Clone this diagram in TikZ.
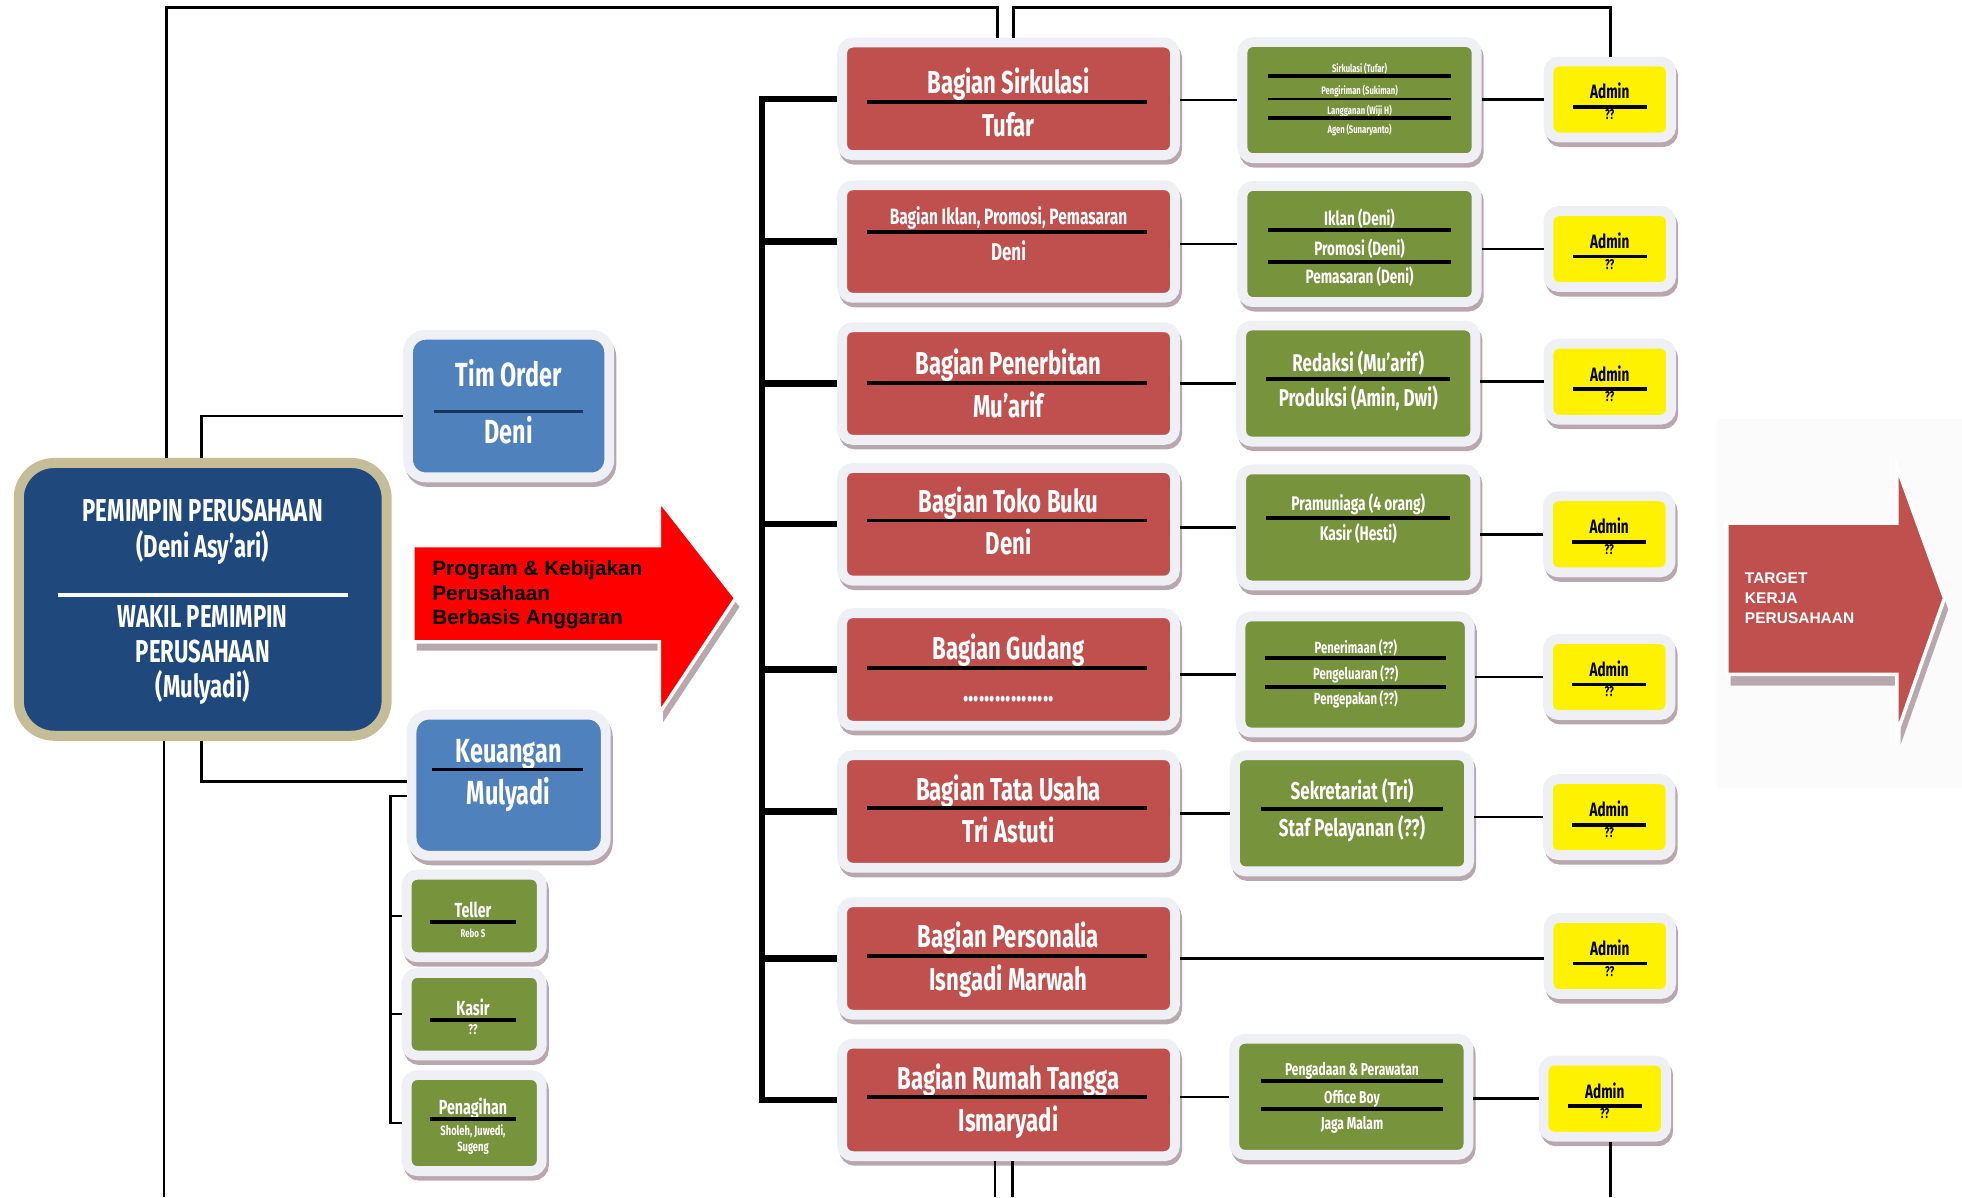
\documentclass[tikz,border=0pt]{standalone}
\usepackage{fontspec}
\newfontfamily\agency[FakeStretch=0.7]{Fira Sans}
\newfontfamily\arialb{Liberation Sans}
\usepackage{tikz}
\definecolor{merahbox}{HTML}{C0504D}
\definecolor{hijaubox}{HTML}{77933C}
\definecolor{birubox}{HTML}{4F81BD}
\definecolor{birutua}{HTML}{1F497D}
\definecolor{krem}{HTML}{C4BD97}
\definecolor{pucat}{HTML}{EEF0F6}
\definecolor{bayang}{HTML}{B9A7AE}
\definecolor{navy}{HTML}{17375E}
\newcommand{\fs}[1]{\fontsize{#1}{#1}\selectfont}
\tikzset{
  kotak/.style={draw=pucat, line width=2.8pt, rounded corners=3pt, inner sep=0pt,
    preaction={draw=bayang, fill=bayang, transform canvas={shift={(0.6pt,-1.3pt)}}}},
  merah/.style={kotak, fill=merahbox, minimum width=33.25mm, minimum height=11.25mm},
  hijau/.style={kotak, fill=hijaubox, minimum width=23.4mm, minimum height=11.6mm},
  hijaukecil/.style={kotak, fill=hijaubox, minimum width=13.5mm, minimum height=8.25mm},
  kuning/.style={kotak, fill=yellow, minimum width=12.25mm, minimum height=7.6mm},
  biru/.style={kotak, fill=birubox, rounded corners=5pt, minimum width=20.1mm, minimum height=14.25mm},
  pimpinan/.style={draw=krem, fill=birutua, line width=2.85pt, rounded corners=10pt,
    minimum width=36.75mm, minimum height=27.25mm, inner sep=0pt},
  teks/.style={anchor=base, inner sep=0pt, text=white, font=\agency\bfseries},
  teksh/.style={teks, text=black},
  pemisah/.style={line width=1.1pt},
  garis/.style={line width=0.7pt},
  tebal/.style={line width=1.8pt, line join=miter},
  panah/.style={draw=white, line width=1pt, line join=miter}
}
% kotak bagian: nomor, y kotak, y garis, atas, bawah
\newcommand{\bagian}[5]{%
  \node[merah] (r#1) at (806,#2) {};
  \node[teks] (r#1a) at (806,{#3-6.6}) {\fs{9}#4};
  \draw[pemisah] (693,#3) -- (917,#3);
  \node[teks] (r#1b) at (806,{#3+27.5}) {\fs{9}#5};
}
% kotak admin: nomor, x, y
\newcommand{\admin}[3]{%
  \node[kuning] (a#1) at (#2,#3) {};
  \node[teksh] (a#1a) at (#2,{#3-0.5}) {\fs{5.5}Admin};
  \draw[pemisah] ({#2-29.5},{#3+6}) -- ({#2+29.5},{#3+6});
  \node[teksh] (a#1b) at (#2,{#3+16}) {\fs{4}??};
}
\begin{document}
\begin{tikzpicture}[x=0.125mm, y=-0.125mm]
    \useasboundingbox (0,0) rectangle (1568,957);
    % Titik bantu
    \coordinate (ka) at (133,6);
    \coordinate (kb) at (797,6);
    \coordinate (kc) at (810,6);
    \coordinate (kd) at (1287,6);
    \coordinate (ba) at (131,957);
    \coordinate (bb) at (795,957);
    \coordinate (bc) at (809,957);
    \coordinate (bd) at (1287,957);
    \coordinate (kt) at (161,0);
    \coordinate (kk) at (312,0);
    \coordinate (rel) at (609,0);
    % Panah program
    \fill[bayang, shift={(3,7)}] (330,436) -- (527,436) -- (527,400) -- (588,478) -- (527,570) -- (527,513) -- (330,513) -- cycle;
    \filldraw[panah, fill=red] (330,436) -- (527,436) -- (527,400) -- (588,478) -- (527,570) -- (527,513) -- (330,513) -- cycle;
    \node[anchor=north west, align=left, inner sep=0pt, font=\arialb\bfseries\fontsize{5.9}{7}\selectfont] (prog) at (345,447.5) {Program \& Kebijakan\\Perusahaan\\Berbasis Anggaran};
    % Panah target
    \fill[gray!3] (1372,335) rectangle (1568,630);
    \fill[bayang, shift={(3,9)}] (1380,418) -- (1516,418) -- (1516,373) -- (1554,478) -- (1516,586) -- (1516,539) -- (1380,539) -- cycle;
    \filldraw[panah, fill=merahbox] (1380,418) -- (1516,418) -- (1516,373) -- (1554,478) -- (1516,586) -- (1516,539) -- (1380,539) -- cycle;
    \node[anchor=north west, align=left, inner sep=0pt, text=white, font=\arialb\bfseries\fontsize{4.4}{5.7}\selectfont] (target) at (1394,457.3) {TARGET\\KERJA\\PERUSAHAAN};
    % Pimpinan
    \node[pimpinan] (pim) at (162,479) {};
    \node[teks] (pim1) at (162,417) {\fs{9}PEMIMPIN PERUSAHAAN};
    \node[teks] (pim2) at (162,445.6) {\fs{9}(Deni Asy’ari)};
    \draw[pemisah, white, line width=0.9pt] (46,475.5) -- (278,475.5);
    \node[teks] (pim3) at (162,501.7) {\fs{9}WAKIL PEMIMPIN};
    \node[teks] (pim4) at (162,529.5) {\fs{9}PERUSAHAAN};
    \node[teks] (pim5) at (162,557.3) {\fs{9}(Mulyadi)};
    % Tim Order, Keuangan
    \node[biru] (tim) at (406.5,324.5) {};
    \node[teks] (tim1) at (406.5,308.6) {\fs{9.5}Tim Order};
    \draw[pemisah, navy, line width=1pt] (347,329) -- (466,329);
    \node[teks] (tim2) at (406.5,354.1) {\fs{9.5}Deni};
    \node[biru, minimum width=19.4mm, minimum height=14.1mm] (keu) at (406.5,627.5) {};
    \node[teks] (keu1) at (406.5,609) {\fs{9.5}Keuangan};
    \draw[pemisah] (345,615) -- (466,615);
    \node[teks] (keu2) at (406.5,643) {\fs{9.5}Mulyadi};
    \node[hijaukecil] (tel) at (379,732) {};
    \node[teks] (tel1) at (378,733.5) {\fs{5.8}Teller};
    \draw[pemisah] (344,736.6) -- (412,736.6);
    \node[teks] (tel2) at (378,749) {\fs{3.2}Rebo S};
    \node[hijaukecil] (kas) at (379,810.5) {};
    \node[teks] (kas1) at (378,811.5) {\fs{5.8}Kasir};
    \draw[pemisah] (344,815.2) -- (412,815.2);
    \node[teks] (kas2) at (378,827) {\fs{4}??};
    \node[hijaukecil, minimum height=9.6mm] (tag) at (379,897.5) {};
    \node[teks] (tag1) at (378,891) {\fs{5.8}Penagihan};
    \draw[pemisah] (344,894.5) -- (412,894.5);
    \node[teks] (tag2) at (378,907.8) {\fs{3.8}Sholeh, Juwedi,};
    \node[teks] (tag3) at (378,920.4) {\fs{3.8}Sugeng};
    % Bagian
    \bagian{1}{79}{81.2}{Bagian Sirkulasi}{Tufar}
    \node[merah] (r2) at (806,193) {};
    \node[teks] (r2a) at (806,179.8) {\fs{6.3}Bagian Iklan, Promosi, Pemasaran};
    \draw[pemisah] (693,185.1) -- (917,185.1);
    \node[teks] (r2b) at (806,207.8) {\fs{6.9}Deni};
    \bagian{3}{306.5}{306}{Bagian Penerbitan}{Mu’arif}
    \bagian{4}{419}{416}{Bagian Toko Buku}{Deni}
    \bagian{5}{535}{533.5}{Bagian Gudang}{.................}
    \bagian{6}{648.5}{646}{Bagian Tata Usaha}{Tri Astuti}
    \bagian{7}{766}{764}{Bagian Personalia}{Isngadi Marwah}
    \bagian{8}{879}{877}{Bagian Rumah Tangga}{Ismaryadi}
    % Sub bagian
    \node[hijau] (g1) at (1086.5,80) {};
    \node[teks] (g1a) at (1086.5,58) {\fs{3.1}Sirkulasi (Tufar)};
    \draw[pemisah] (1013,60.5) -- (1160,60.5);
    \node[teks] (g1b) at (1086.5,75.4) {\fs{3.1}Pengiriman (Sukiman)};
    \draw[pemisah, line width=0.6pt] (1013,79.1) -- (1160,79.1);
    \node[teks] (g1c) at (1086.5,91.1) {\fs{3.1}Langganan (Wiji H)};
    \draw[pemisah] (1013,94.6) -- (1160,94.6);
    \node[teks] (g1d) at (1086.5,106.6) {\fs{3.1}Agen (Sunaryanto)};
    \node[hijau] (g2) at (1086.5,195) {};
    \node[teks] (g2a) at (1086.5,180.5) {\fs{5.5}Iklan (Deni)};
    \draw[pemisah] (1013,184) -- (1160,184);
    \node[teks] (g2b) at (1086.5,204) {\fs{5.5}Promosi (Deni)};
    \draw[pemisah] (1013,209.7) -- (1160,209.7);
    \node[teks] (g2c) at (1086.5,226.4) {\fs{5.5}Pemasaran (Deni)};
    \node[hijau] (g3) at (1085.5,306.5) {};
    \node[teks] (g3a) at (1085.5,297) {\fs{6.9}Redaksi (Mu’arif)};
    \draw[pemisah] (1012,303.2) -- (1159,303.2);
    \node[teks] (g3b) at (1085.5,325) {\fs{6.9}Produksi (Amin, Dwi)};
    \node[hijau] (g4) at (1085.5,421.5) {};
    \node[teks] (g4a) at (1085.5,407.6) {\fs{5.6}Pramuniaga (4 orang)};
    \draw[pemisah] (1012,414.2) -- (1159,414.2);
    \node[teks] (g4b) at (1085.5,432.1) {\fs{5.6}Kasir (Hesti)};
    \node[hijau, minimum width=22.9mm] (g5) at (1083,539) {};
    \node[teks] (g5a) at (1083.5,522.3) {\fs{4.6}Penerimaan (??)};
    \draw[pemisah] (1011,526.1) -- (1156,526.1);
    \node[teks] (g5b) at (1083.5,543.4) {\fs{4.6}Pengeluaran (??)};
    \draw[pemisah] (1011,548.8) -- (1156,548.8);
    \node[teks] (g5c) at (1083.5,563.4) {\fs{4.6}Pengepakan (??)};
    \node[hijau] (g6) at (1080.5,650) {};
    \node[teks] (g6a) at (1080.5,639.3) {\fs{6.9}Sekretariat (Tri)};
    \draw[pemisah] (1008,646.5) -- (1153,646.5);
    \node[teks] (g6b) at (1080.5,668.6) {\fs{6.9}Staf Pelayanan (??)};
    \node[hijau] (g8) at (1080,876.5) {};
    \node[teks] (g8a) at (1080.5,859.5) {\fs{4.9}Pengadaan \& Perawatan};
    \draw[pemisah] (1008,863.6) -- (1153,863.6);
    \node[teks] (g8b) at (1080.5,881.7) {\fs{4.9}Office Boy};
    \draw[pemisah] (1008,886.5) -- (1153,886.5);
    \node[teks] (g8c) at (1080.5,902.5) {\fs{4.9}Jaga Malam};
    % Admin
    \admin{1}{1286.5}{79.5}
    \admin{2}{1286.5}{199}
    \admin{3}{1286.5}{305}
    \admin{4}{1286}{427}
    \admin{5}{1286}{541}
    \admin{6}{1286}{653}
    \admin{7}{1286.5}{764}
    \admin{8}{1282.5}{878}
    % Garis
    \draw[garis] (pim.north -| ka) -- (ka) -- (kb) -- (r1.north -| kb);
    \draw[garis] (r1.north -| kc) -- (kc) -- (kd) -- (a1.north -| kd);
    \draw[garis] (pim.south -| ba) -- (ba);
    \draw[garis] (r8.south -| bb) -- (bb);
    \draw[garis] (r8.south -| bc) -- (bc);
    \draw[garis] (a8.south -| bd) -- (bd);
    \draw[garis] (pim.north -| kt) |- ([yshift=-2.8pt]tim.west);
    \draw[garis] (pim.south -| kt) |- ([yshift=1pt]keu.west);
    \draw[garis] ([yshift=-3pt]keu.west) -| (kk |- tag.west) -- (tag.west);
    \draw[garis] (tel.west) -- (tel.west -| kk);
    \draw[garis] (kas.west) -- (kas.west -| kk);
    \draw[tebal] (r1.west) -| (rel |- r8.west) -- (r8.west);
    \foreach \n in {2,...,7} \draw[tebal] (r\n.west) -- (r\n.west -| rel);
    \foreach \n in {1,2,3,4,5,6,8} \draw[garis] (g\n.west -| r\n.east) -- (g\n.west);
    \foreach \n in {1,2,3,4,5,6,8} \draw[garis] (a\n.west -| g\n.east) -- (a\n.west);
    \draw[garis] (r7.east) -- (r7.east -| a7.west);
\end{tikzpicture}
\end{document}
